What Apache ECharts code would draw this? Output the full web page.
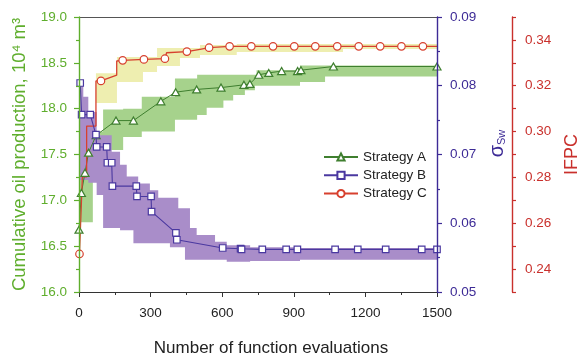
<!DOCTYPE html>
<html>
<head>
<meta charset="utf-8">
<script src="https://cdn.jsdelivr.net/npm/echarts@6/dist/echarts.min.js"></script>
<style>
  html, body { margin: 0; padding: 0; background: #fff; }
  #chart { width: 578px; height: 354px; }
</style>
</head>
<body>
<div id="chart"></div>
<script>
// Strategy A - cumulative oil (left axis)
const aX = [0, 10, 25, 40, 72, 155, 228, 343, 405, 493, 595, 691, 716, 753, 795, 849, 916, 930, 1066, 1500];
const aY = [16.68, 17.08, 17.30, 17.52, 17.71, 17.87, 17.87, 18.08, 18.18, 18.21, 18.23, 18.26, 18.27, 18.37, 18.39, 18.41, 18.41, 18.42, 18.46, 18.46];
// Strategy B - sigma Sw
const bX = [5, 11, 47, 71, 74, 116, 119, 137, 140, 240, 243, 302, 304, 406, 410, 602, 677, 681, 768, 868, 915, 1073, 1168, 1285, 1436, 1500];
const bY = [0.0804, 0.0758, 0.0758, 0.0729, 0.0711, 0.0711, 0.0688, 0.0688, 0.0654, 0.0654, 0.0639, 0.0639, 0.0617, 0.0586, 0.0576, 0.0564, 0.0563, 0.0562, 0.0562, 0.0562, 0.0562, 0.0562, 0.0562, 0.0562, 0.0562, 0.0562];
// Strategy C - IFPC (cMark = 1 where a circle is drawn)
const cX = [2, 14, 32, 32, 71, 71, 92, 158, 158, 183, 272, 360, 367, 452, 507, 545, 631, 722, 813, 902, 990, 1082, 1172, 1262, 1351, 1441, 1500];
const cY = [0.2466, 0.2802, 0.2802, 0.3024, 0.3024, 0.3221, 0.3221, 0.3246, 0.3308, 0.3311, 0.3315, 0.3318, 0.3344, 0.3349, 0.3359, 0.3366, 0.3372, 0.3372, 0.3372, 0.3372, 0.3372, 0.3372, 0.3372, 0.3372, 0.3372, 0.3372, 0.3372];
const cMark = [1, 0, 0, 0, 0, 0, 1, 0, 0, 1, 1, 1, 0, 1, 0, 1, 1, 1, 1, 1, 1, 1, 1, 1, 1, 1, 0];

// shaded ranges, step edges (x has one more entry than lo/hi)
const aBandX = [0, 58, 101, 185, 263, 402, 495, 535, 605, 646, 695, 737, 744, 926, 1031, 1500];
const aBandLo = [16.76, 17.35, 17.55, 17.69, 17.75, 17.88, 17.93, 18.01, 18.09, 18.15, 18.20, 18.25, 18.25, 18.29, 18.35];
const aBandHi = [17.60, 17.75, 17.99, 18.00, 18.13, 18.33, 18.37, 18.37, 18.37, 18.37, 18.37, 18.37, 18.42, 18.47, 18.47];
const bBandX = [0, 18, 39, 74, 101, 137, 172, 200, 228, 248, 297, 332, 381, 416, 444, 465, 493, 570, 619, 717, 926, 1500];
const bBandHi = [0.0804, 0.0784, 0.0762, 0.0728, 0.0728, 0.0704, 0.0685, 0.0668, 0.0668, 0.0658, 0.0648, 0.0637, 0.0637, 0.0622, 0.0622, 0.0593, 0.0583, 0.0573, 0.0568, 0.0565, 0.0564];
const bBandLo = [0.0663, 0.0663, 0.0659, 0.0641, 0.0593, 0.0593, 0.0590, 0.0590, 0.0571, 0.0571, 0.0571, 0.0571, 0.0565, 0.0565, 0.0547, 0.0547, 0.0547, 0.0547, 0.0544, 0.0545, 0.0547];
const cBandX = [42, 71, 159, 268, 327, 423, 507, 661, 1106, 1500];
const cBandLo = [0.2976, 0.3125, 0.3216, 0.3260, 0.3286, 0.3321, 0.3334, 0.3347, 0.3360];
const cBandHi = [0.3024, 0.3255, 0.3325, 0.3325, 0.3365, 0.3365, 0.3378, 0.3382, 0.3382];

const GREEN = '#5fae2d', GREEN_LINE = '#3f7f2f';
const PURPLE = '#3d2b96', PURPLE_LINE = '#4a38a0';
const RED = '#c9302c', RED_LINE = '#d7402e';
const FONT = 'Liberation Sans, Arial, sans-serif';

function bandSeries(name, xs, lo, hi, yIdx, color) {
    let pts = [];
    for (let i = 0; i < lo.length; i++) {
        pts.push([xs[i], hi[i]], [xs[i + 1], hi[i]]);
    }
    for (let i = lo.length - 1; i >= 0; i--) {
        pts.push([xs[i + 1], lo[i]], [xs[i], lo[i]]);
    }
    return {
        type: 'custom', name: name, yAxisIndex: yIdx, silent: true, z: 1,
        data: [[xs[0], lo[0]]],
        renderItem: function (params, api) {
            return {
                type: 'polygon',
                shape: {points: pts.map(p => api.coord(p))},
                style: {fill: color, stroke: null}
            };
        }
    };
}

function yAxisBase(color, min, max) {
    return {
        type: 'value', min: min, max: max, z: 10,
        axisLine: {show: true, onZero: false, lineStyle: {color: color, width: 1.4}},
        axisTick: {show: true, length: 5, lineStyle: {color: color, width: 1.2}},
        minorTick: {show: true, splitNumber: 2, length: 3, lineStyle: {color: color, width: 1.2}},
        splitLine: {show: false},
        axisLabel: {color: color, fontSize: 13.5, fontFamily: FONT, margin: 12},
        nameLocation: 'middle', nameRotate: 90
    };
}

let chart = echarts.init(document.getElementById('chart'));

let yLeft = yAxisBase(GREEN, 16, 19);
yLeft.position = 'left';
yLeft.interval = 0.5;
yLeft.axisLabel.formatter = v => v.toFixed(1);
yLeft.name = 'Cumulative oil production, 10\u2074 m\u00b3';
yLeft.nameGap = 48;
yLeft.nameTextStyle = {color: GREEN, fontSize: 18.5, fontFamily: FONT};

let ySig = yAxisBase(PURPLE, 0.05, 0.09);
ySig.position = 'right';
ySig.interval = 0.01;
ySig.axisLabel.formatter = v => v.toFixed(2);
ySig.axisLabel.margin = 13;
ySig.name = '{s|\u03c3}{sub|Sw}';
ySig.nameGap = 44;
ySig.nameTextStyle = {
    color: PURPLE, fontFamily: FONT, padding: [0, 0, 0, 22],
    rich: {
        s: {fontSize: 20, color: PURPLE, fontFamily: FONT, verticalAlign: 'bottom', lineHeight: 22},
        sub: {fontSize: 11, color: PURPLE, fontFamily: FONT, verticalAlign: 'bottom', lineHeight: 16}
    }
};

// IFPC axis: a tick every 0.01, label on every second one
let yIfpc = yAxisBase(RED, 0.23, 0.35);
yIfpc.position = 'right';
yIfpc.offset = 75;
yIfpc.interval = 0.01;
yIfpc.minorTick = {show: false};
yIfpc.axisTick.length = 4;
yIfpc.axisLabel.formatter = v => (Math.round(v * 100) % 2 === 0 ? v.toFixed(2) : '');
yIfpc.axisLabel.margin = 13;
yIfpc.name = 'IFPC';
yIfpc.nameGap = 51;
yIfpc.nameTextStyle = {color: RED, fontSize: 18, fontFamily: FONT};

let option = {
    animation: false,
    textStyle: {fontFamily: FONT},
    grid: {left: 79, right: 141, top: 17, bottom: 62, containLabel: false, outerBoundsMode: 'none'},
    legend: {
        data: ['Strategy A', 'Strategy B', 'Strategy C'],
        orient: 'vertical', left: 318, top: 145,
        itemWidth: 34, itemHeight: 9, itemGap: 4.3,
        textStyle: {fontSize: 13.5, color: '#222', fontFamily: FONT}
    },
    xAxis: [{
        type: 'value', min: 0, max: 1500, interval: 300,
        axisLine: {onZero: false, lineStyle: {color: '#333', width: 1.2}},
        axisTick: {show: true, length: 5, lineStyle: {color: '#333'}},
        minorTick: {show: true, splitNumber: 2, length: 3, lineStyle: {color: '#333'}},
        splitLine: {show: false},
        axisLabel: {color: '#222', fontSize: 13.5, margin: 14, formatter: v => String(v)},
        name: 'Number of function evaluations', nameLocation: 'middle', nameGap: 48,
        nameTextStyle: {color: '#222', fontSize: 17, padding: [0, 0, 0, 26]}
    }, {
        type: 'value', min: 0, max: 1500, position: 'top',
        axisLine: {onZero: false, lineStyle: {color: '#555', width: 1.2}},
        axisTick: {show: false}, axisLabel: {show: false}, splitLine: {show: false}
    }],
    yAxis: [yLeft, ySig, yIfpc],
    series: [
        bandSeries('A range', aBandX, aBandLo, aBandHi, 0, '#a6d28c'),
        bandSeries('C range', cBandX, cBandLo, cBandHi, 2, '#eeeeb0'),
        bandSeries('B range', bBandX, bBandLo, bBandHi, 1, '#a98dc9'),
        {
            name: 'Strategy A', type: 'line', yAxisIndex: 0, z: 3,
            data: aX.map((x, i) => [x, aY[i]]),
            symbol: 'triangle', symbolSize: [8, 7],
            lineStyle: {color: GREEN_LINE, width: 1},
            itemStyle: {color: '#fff', borderColor: GREEN_LINE, borderWidth: 1.2}
        },
        {
            name: 'Strategy C', type: 'line', yAxisIndex: 2, z: 3,
            data: cX.map((x, i) => cMark[i] ? [x, cY[i]] : {value: [x, cY[i]], symbol: 'none'}),
            symbol: 'circle', symbolSize: 7.5,
            lineStyle: {color: RED_LINE, width: 1.3},
            itemStyle: {color: '#fff', borderColor: RED_LINE, borderWidth: 1.2}
        },
        {
            name: 'Strategy B', type: 'line', yAxisIndex: 1, z: 4,
            data: bX.map((x, i) => [x, bY[i]]),
            symbol: 'rect', symbolSize: 6.5,
            lineStyle: {color: PURPLE_LINE, width: 1.1},
            itemStyle: {color: '#fff', borderColor: PURPLE_LINE, borderWidth: 1.2}
        }
    ]
};

chart.setOption(option);
</script>
</body>
</html>
